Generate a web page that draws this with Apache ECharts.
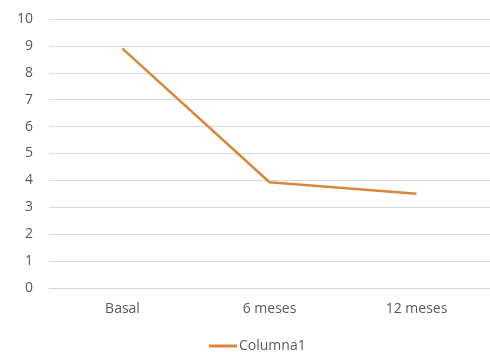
<!DOCTYPE html>
<html>
<head>
<meta charset="utf-8">
<script src="https://cdn.jsdelivr.net/npm/echarts@6/dist/echarts.min.js"></script>
<style>html,body{margin:0;padding:0;background:#fff}#c{width:490px;height:352px}</style>
</head>
<body>
<div id="c"></div>
<script>
const categories = ["Basal", "6 meses", "12 meses"];
const seriesName = "Columna1";
const values = [8.9, 3.93, 3.5];
const yTicks = [0, 10, 1];

const chart = echarts.init(document.getElementById('c'), null, {renderer: 'canvas'});
const font = "'Open Sans', 'Liberation Sans', sans-serif";
chart.setOption({
  animation: false,
  backgroundColor: '#fff',
  grid: {left: 49, right: 0, top: 19, bottom: 64, containLabel: false},
  legend: {
    data: [seriesName],
    top: 339,
    left: 209,
    padding: 0,
    icon: 'rect',
    itemWidth: 28,
    itemHeight: 3,
    itemGap: 2,
    textStyle: {color: '#595959', fontSize: 14, fontFamily: font, padding: [0,0,0,-3]}
  },
  xAxis: {
    type: 'category',
    data: categories,
    boundaryGap: true,
    axisLine: {show: true, lineStyle: {color: '#d9d9d9', width: 1}},
    axisTick: {show: false},
    axisLabel: {color: '#595959', fontSize: 14, fontFamily: font, margin: 14}
  },
  yAxis: {
    type: 'value',
    min: yTicks[0], max: yTicks[1], interval: yTicks[2],
    axisLine: {show: false},
    axisTick: {show: false},
    splitLine: {lineStyle: {color: '#d9d9d9', width: 1}},
    axisLabel: {color: '#595959', fontSize: 14, fontFamily: font, margin: 16}
  },
  series: [{
    name: seriesName,
    type: 'line',
    data: values,
    symbol: 'none',
    lineStyle: {color: '#D9873D', width: 2.5},
    itemStyle: {color: '#D9873D'}
  }]
});
</script>
</body>
</html>
